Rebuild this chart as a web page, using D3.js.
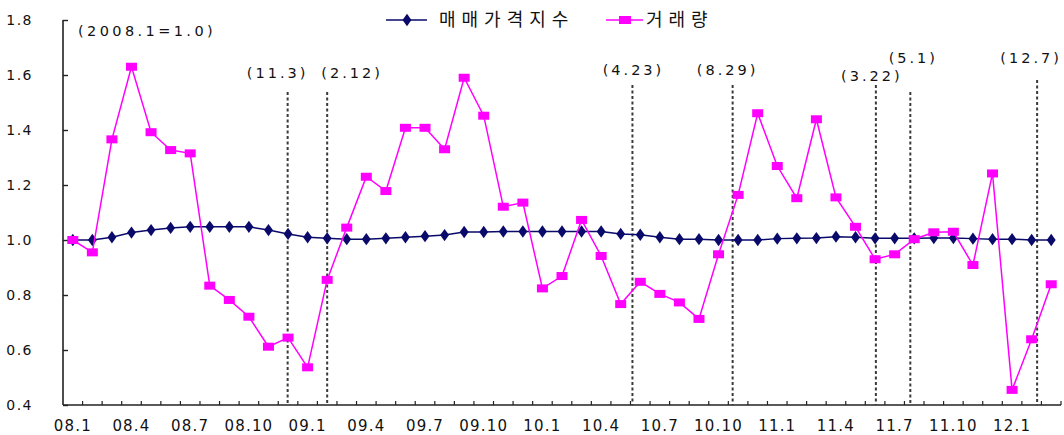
<!DOCTYPE html>
<html>
<head>
<meta charset="utf-8">
<script src="https://cdn.jsdelivr.net/npm/d3@7"></script>
<style>
  html, body { margin: 0; padding: 0; background: #fff; }
  svg { display: block; }
  text { font-family: "DejaVu Sans", sans-serif; fill: #111; }
  .kr { font-family: "Noto Sans CJK KR", sans-serif; }
</style>
</head>
<body>
<script>
// Monthly categories 2008.1 – 2012.3
const months = [
  "08.1","08.2","08.3","08.4","08.5","08.6","08.7","08.8","08.9","08.10","08.11","08.12",
  "09.1","09.2","09.3","09.4","09.5","09.6","09.7","09.8","09.9","09.10","09.11","09.12",
  "10.1","10.2","10.3","10.4","10.5","10.6","10.7","10.8","10.9","10.10","10.11","10.12",
  "11.1","11.2","11.3","11.4","11.5","11.6","11.7","11.8","11.9","11.10","11.11","11.12",
  "12.1","12.2","12.3"
];

// 매매가격지수 (2008.1 = 1.0)
const priceIndex = [
  1.000,1.000,1.010,1.027,1.036,1.044,1.048,1.048,1.048,1.048,1.036,1.022,
  1.010,1.006,1.003,1.003,1.006,1.010,1.014,1.018,1.029,1.029,1.031,1.031,
  1.031,1.031,1.031,1.031,1.022,1.019,1.010,1.003,1.003,1.000,1.000,1.000,
  1.005,1.006,1.007,1.012,1.010,1.006,1.006,1.006,1.007,1.007,1.005,1.003,
  1.003,1.000,1.000
];

// 거래량 (2008.1 = 1.0)
const volume = [
  1.000,0.955,1.366,1.630,1.392,1.327,1.315,0.834,0.782,0.721,0.612,0.645,
  0.537,0.855,1.045,1.230,1.178,1.408,1.408,1.330,1.590,1.452,1.121,1.136,
  0.824,0.869,1.073,0.942,0.767,0.848,0.804,0.773,0.713,0.948,1.164,1.461,
  1.269,1.152,1.439,1.155,1.048,0.930,0.948,1.003,1.028,1.030,0.909,1.242,
  0.455,0.639,0.839
];

// Policy announcement markers, position in month units along the axis
const eventLabels = ["(11.3)","(2.12)","(4.23)","(8.29)","(3.22)","(5.1)","(12.7)"];
const eventPos    = [11.48, 13.5, 29.1, 34.22, 41.54, 43.3, 49.78];

const yTicks = [0.4, 0.6, 0.8, 1.0, 1.2, 1.4, 1.6, 1.8];
const seriesNames = ["매매가격지수", "거래량"];
const baseNote = "(2008.1=1.0)";

// ---- layout ----
const W = 1064, H = 435;
const plot = { left: 63, right: 1061, top: 20, bottom: 405 };
// label offsets / line tops for the event markers
const eventLayout = [
  { dx: -10, ly: 73, top: 92 },
  { dx: 25,  ly: 73, top: 92 },
  { dx: 1,   ly: 70, top: 85 },
  { dx: -5,  ly: 70, top: 85 },
  { dx: -4,  ly: 76, top: 85 },
  { dx: 3,   ly: 58, top: 92 },
  { dx: -6,  ly: 58, top: 80 }
];

const svg = d3.select("body").append("svg").attr("width", W).attr("height", H);

const x = d3.scaleBand().domain(months).range([plot.left, plot.right]).padding(0);
const xm = d3.scaleLinear().domain([0, months.length]).range([plot.left, plot.right]);
const y = d3.scaleLinear().domain([0.4, 1.8]).range([plot.bottom, plot.top]);
const cx = m => x(m) + x.bandwidth() / 2;

// ---- y axis ----
const yAxis = svg.append("g").attr("transform", `translate(${plot.left},0)`)
  .call(d3.axisRight(y).tickValues(yTicks).tickSize(5).tickFormat(d3.format(".1f")));
yAxis.select(".domain").attr("stroke", "#222").attr("stroke-width", 1.6)
  .attr("d", `M0,${plot.top}V${plot.bottom}`);
yAxis.selectAll(".tick line").attr("stroke", "#222").attr("stroke-width", 1.4);
yAxis.selectAll(".tick text")
  .attr("x", -30).attr("text-anchor", "end").attr("dy", "0.35em")
  .style("font-size", "14px").style("letter-spacing", "1.5px").attr("fill", "#111");

// ---- x axis (ticks between months, pointing up) ----
const boundaries = d3.range(1, months.length + 1);
const xAxis = svg.append("g").attr("transform", `translate(0,${plot.bottom})`);
xAxis.append("line")
  .attr("x1", plot.left).attr("x2", plot.right)
  .attr("stroke", "#222").attr("stroke-width", 1.6);
xAxis.selectAll("line.tk").data(boundaries).join("line")
  .attr("class", "tk")
  .attr("x1", d => xm(d)).attr("x2", d => xm(d))
  .attr("y1", 0).attr("y2", -4)
  .attr("stroke", "#222").attr("stroke-width", 1.2);
xAxis.selectAll("text").data(months.filter((m, i) => i % 3 === 0)).join("text")
  .attr("x", d => cx(d)).attr("y", 26)
  .attr("text-anchor", "middle")
  .style("font-size", "15px").style("letter-spacing", "1.2px")
  .text(d => d);

// ---- event markers ----
const ev = svg.append("g");
eventPos.forEach((p, i) => {
  const L = eventLayout[i];
  ev.append("line")
    .attr("x1", xm(p)).attr("x2", xm(p))
    .attr("y1", L.top).attr("y2", plot.bottom)
    .attr("stroke", "#3a3a3a").attr("stroke-width", 2)
    .attr("stroke-dasharray", "3,2.5");
  ev.append("text")
    .attr("x", xm(p) + L.dx).attr("y", L.ly).attr("dy", "0.35em")
    .attr("text-anchor", "middle")
    .style("font-size", "14.5px").style("letter-spacing", "3px")
    .text(eventLabels[i]);
});

svg.append("text")
  .attr("x", 78).attr("y", 31).attr("dy", "0.35em")
  .style("font-size", "14.5px").style("letter-spacing", "3.4px")
  .text(baseNote);

// ---- series ----
const line = d3.line().x((d, i) => cx(months[i])).y(d => y(d));
const navy = "#0a0a6a", magenta = "#ff00ff";

svg.append("path").datum(priceIndex)
  .attr("d", line).attr("fill", "none")
  .attr("stroke", navy).attr("stroke-width", 1.5);
const diamond = d3.symbol().type(d3.symbolDiamond).size(44);
svg.append("g").selectAll("path").data(priceIndex).join("path")
  .attr("d", diamond)
  .attr("transform", (d, i) => `translate(${cx(months[i])},${y(d)}) scale(1.25,1)`)
  .attr("fill", navy);

svg.append("path").datum(volume)
  .attr("d", line).attr("fill", "none")
  .attr("stroke", magenta).attr("stroke-width", 1.5);
svg.append("g").selectAll("rect").data(volume).join("rect")
  .attr("x", (d, i) => cx(months[i]) - 5.5).attr("y", d => y(d) - 4)
  .attr("width", 11).attr("height", 8)
  .attr("fill", magenta);

// ---- legend ----
const lg = svg.append("g");
lg.append("line").attr("x1", 386).attr("x2", 427).attr("y1", 20).attr("y2", 20)
  .attr("stroke", navy).attr("stroke-width", 1.5);
lg.append("path").attr("d", diamond).attr("transform", "translate(407,20) scale(1.25,1)").attr("fill", navy);
lg.append("text").attr("class", "kr").attr("x", 439).attr("y", 20).attr("dy", "0.36em")
  .style("font-size", "18px").style("letter-spacing", "6px").text(seriesNames[0]);

lg.append("line").attr("x1", 606).attr("x2", 643).attr("y1", 20).attr("y2", 20)
  .attr("stroke", magenta).attr("stroke-width", 1.5);
lg.append("rect").attr("x", 619).attr("y", 16).attr("width", 12).attr("height", 8).attr("fill", magenta);
lg.append("text").attr("class", "kr").attr("x", 646).attr("y", 20).attr("dy", "0.36em")
  .style("font-size", "18px").style("letter-spacing", "6px").text(seriesNames[1]);
</script>
</body>
</html>
